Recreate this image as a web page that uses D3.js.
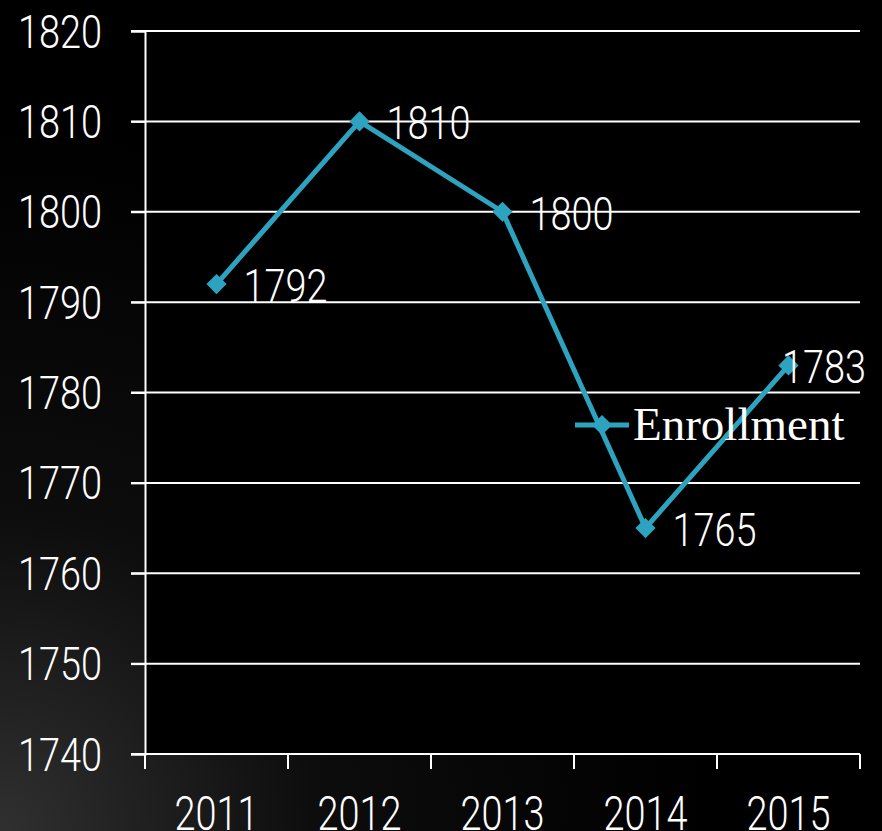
<!DOCTYPE html>
<html>
<head>
<meta charset="utf-8">
<script src="https://cdnjs.cloudflare.com/ajax/libs/d3/7.8.5/d3.min.js"></script>
<style>
  html, body { margin: 0; padding: 0; background: #000; overflow: hidden; }
  svg { display: block; }
  .num { font-family: "Roboto", "Liberation Sans Narrow", sans-serif; font-weight: 300; fill: #fff; }
</style>
</head>
<body>
<script>
var years = ['2011', '2012', '2013', '2014', '2015'];
var enrollment = [1792, 1810, 1800, 1765, 1783];
var yTicks = [1740, 1750, 1760, 1770, 1780, 1790, 1800, 1810, 1820];
var seriesName = 'Enrollment';

var w = 882, h = 831;
var plotLeft = 145, plotRight = 860, plotTop = 31, plotBottom = 754;
var lineColor = '#2ea3c0';
var numSize = 46, numWidth = 84;   // condensed look: squeeze 4 digits into 84px

var svg = d3.select('body').append('svg')
  .attr('width', w)
  .attr('height', h);

// background: dark with a faint lighter glow toward the bottom left
var defs = svg.append('defs');
var grad = defs.append('radialGradient')
  .attr('id', 'bg')
  .attr('gradientUnits', 'userSpaceOnUse')
  .attr('cx', 0).attr('cy', h).attr('r', 700);
grad.append('stop').attr('offset', '0%').attr('stop-color', '#303030');
grad.append('stop').attr('offset', '45%').attr('stop-color', '#0d0d0d');
grad.append('stop').attr('offset', '100%').attr('stop-color', '#000');
svg.append('rect').attr('width', w).attr('height', h).attr('fill', 'url(#bg)');
svg.append('rect')
  .attr('x', plotLeft).attr('y', plotTop)
  .attr('width', plotRight - plotLeft).attr('height', plotBottom - plotTop)
  .attr('fill', '#000');

// SCALES
var x = d3.scaleBand().domain(years).range([plotLeft, plotRight]);
var y = d3.scaleLinear().domain([1740, 1820]).range([plotBottom, plotTop]);

// gridlines
svg.append('g')
  .selectAll('line')
  .data(yTicks)
  .enter().append('line')
    .attr('x1', plotLeft - 14)
    .attr('x2', plotRight)
    .attr('y1', d => y(d))
    .attr('y2', d => y(d))
    .attr('stroke', '#fff')
    .attr('stroke-width', 2);

// y axis
var yAxis = d3.axisLeft(y).tickValues(yTicks).tickSize(14).tickPadding(29).tickFormat(d3.format('d'));
var gy = svg.append('g')
  .attr('transform', `translate(${plotLeft},0)`)
  .call(yAxis);
gy.select('.domain').attr('stroke', '#fff').attr('stroke-width', 2);
gy.selectAll('.tick line').attr('stroke', '#fff').attr('stroke-width', 2);
gy.selectAll('.tick text')
  .attr('class', 'num')
  .attr('font-size', numSize)
  .attr('textLength', numWidth)
  .attr('lengthAdjust', 'spacingAndGlyphs')
  .attr('fill', '#fff')
  .attr('dy', '0.35em');

// x axis: ticks on band boundaries
var boundaries = years.map(d => x(d)).concat([plotRight]);
var gx = svg.append('g');
gx.append('line')
  .attr('x1', plotLeft).attr('x2', plotRight)
  .attr('y1', plotBottom).attr('y2', plotBottom)
  .attr('stroke', '#fff').attr('stroke-width', 2);
gx.selectAll('line.tk')
  .data(boundaries)
  .enter().append('line')
    .attr('class', 'tk')
    .attr('x1', d => d).attr('x2', d => d)
    .attr('y1', plotBottom).attr('y2', plotBottom + 15)
    .attr('stroke', '#fff').attr('stroke-width', 2);
gx.selectAll('text')
  .data(years)
  .enter().append('text')
    .attr('class', 'num')
    .attr('x', d => x(d) + x.bandwidth() / 2)
    .attr('y', 830)
    .attr('text-anchor', 'middle')
    .attr('font-size', 48)
    .attr('textLength', 84)
    .attr('lengthAdjust', 'spacingAndGlyphs')
    .text(d => d);

// LINE
var pts = years.map((d, i) => [x(d) + x.bandwidth() / 2, y(enrollment[i])]);
svg.append('path')
  .datum(pts)
  .attr('d', d3.line())
  .attr('fill', 'none')
  .attr('stroke', lineColor)
  .attr('stroke-width', 5)
  .attr('stroke-linejoin', 'round');

var diamond = d3.symbol().type(d3.symbolDiamond2).size(260);
svg.selectAll('path.mk')
  .data(pts)
  .enter().append('path')
    .attr('class', 'mk')
    .attr('transform', d => `translate(${d[0]},${d[1]})`)
    .attr('d', diamond)
    .attr('fill', lineColor);

// data labels
svg.selectAll('text.lbl')
  .data(pts)
  .enter().append('text')
    .attr('class', 'num lbl')
    .attr('font-size', numSize)
    .attr('textLength', numWidth)
    .attr('lengthAdjust', 'spacingAndGlyphs')
    .attr('dy', '0.35em')
    .attr('y', d => d[1] + 2)
    .attr('x', d => Math.min(d[0] + 27, w - 100))
    .text((d, i) => enrollment[i]);

// legend
var lg = svg.append('g').attr('transform', 'translate(575,425)');
lg.append('line')
  .attr('x1', 0).attr('x2', 54)
  .attr('stroke', lineColor).attr('stroke-width', 5);
lg.append('path')
  .attr('transform', 'translate(27,0)')
  .attr('d', diamond)
  .attr('fill', lineColor);
lg.append('text')
  .attr('x', 58)
  .attr('y', 15)
  .attr('font-family', '"Liberation Serif", "Times New Roman", serif')
  .attr('font-size', 47)
  .attr('fill', '#fff')
  .text(seriesName);
</script>
</body>
</html>
